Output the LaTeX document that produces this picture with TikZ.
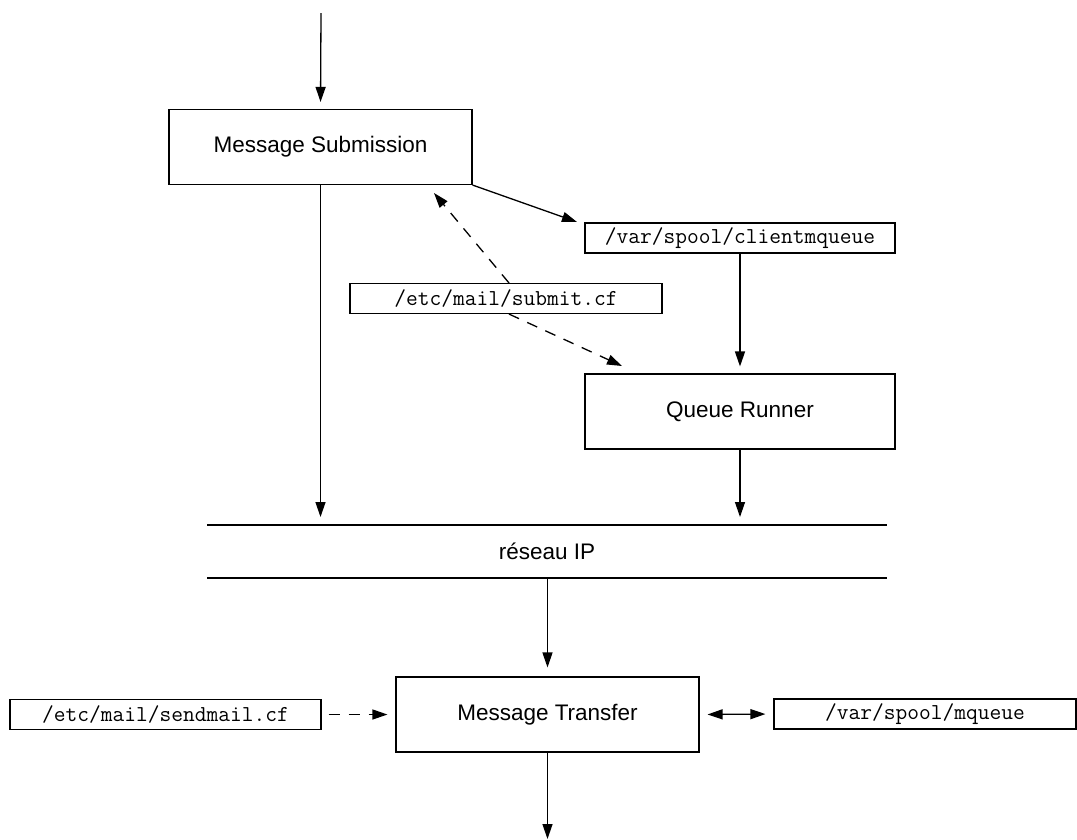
\documentclass[tikz,border=0pt]{standalone}
\usepackage{fontspec}
\setmainfont{Liberation Sans}
\usetikzlibrary{arrows.meta}

\begin{document}
\begin{tikzpicture}[x=1pt,y=-1pt,
  line width=1.3pt,
  tip/.tip={Triangle[length=15pt,width=10pt]},
  arr/.style={-tip},
  darr/.style={tip-tip},
  dsh/.style={dash pattern=on 11pt off 9pt},
  proc/.style={draw, line width=1.1pt, inner sep=0pt, minimum width=303pt,
    minimum height=75pt, font=\fontsize{22.5}{27}\selectfont},
  file/.style={draw, line width=1.1pt, inner sep=0pt, minimum height=30pt,
    font=\ttfamily\fontsize{22.8}{26}\selectfont},
]
\useasboundingbox (0,0) rectangle (1077,839);

% processes
\node[proc] (sub) at (320.5,147) {Message Submission};
\node[proc, minimum width=310pt] (qr) at (740,411.5) {Queue Runner};
\node[proc] (mt) at (547.5,714.5) {Message Transfer};

% files
\node[file, minimum width=310pt] (cmq) at (740,238) {/var/spool/clientmqueue};
\node[file, minimum width=312pt] (scf) at (506,298.5) {/etc/mail/submit.cf};
\node[file, minimum width=311pt] (smcf) at (165.5,714.5) {/etc/mail/sendmail.cf};
\node[file, minimum width=302pt] (mq) at (925,714) {/var/spool/mqueue};

% IP network
\coordinate (netTL) at (207,525);
\coordinate (netTR) at (887,525);
\coordinate (netBL) at (207,578);
\coordinate (netBR) at (887,578);
\draw (netTL) -- (netTR);
\draw (netBL) -- (netBR);
\node[font=\fontsize{22.5}{27}\selectfont] (net) at (547,551) {réseau IP};

% free ends
\coordinate (in) at (321,13);
\coordinate (out) at (547.5,839);
\coordinate (subcf) at (434,193);
\coordinate (qrcf) at (622,366);
\coordinate (cmqin) at (577,222);

% flows
\draw[arr, shorten >=7pt] (in) -- (sub.north);
\draw[arr, shorten >=8pt] (sub.south) -- (sub.south |- netTL);
\draw[arr] (sub.south east) -- (cmqin);
\draw[arr, shorten >=7pt] (cmq.south) -- (qr.north);
\draw[arr, shorten >=8pt] (qr.south) -- (qr.south |- netTL);
\draw[arr, shorten >=9pt] (mt.north |- netBL) -- (mt.north);
\draw[arr] (mt.south) -- (out);

% configuration reads
\draw[arr, dsh] ([xshift=3pt]scf.north) -- (subcf);
\draw[arr, dsh] ([xshift=3pt]scf.south) -- (qrcf);
\draw[arr, dsh, shorten <=7pt, shorten >=8pt] (smcf.east) -- (mt.west);
\draw[darr, shorten <=8pt, shorten >=8pt] (mt.east) -- (mq.west);
\end{tikzpicture}
\end{document}
